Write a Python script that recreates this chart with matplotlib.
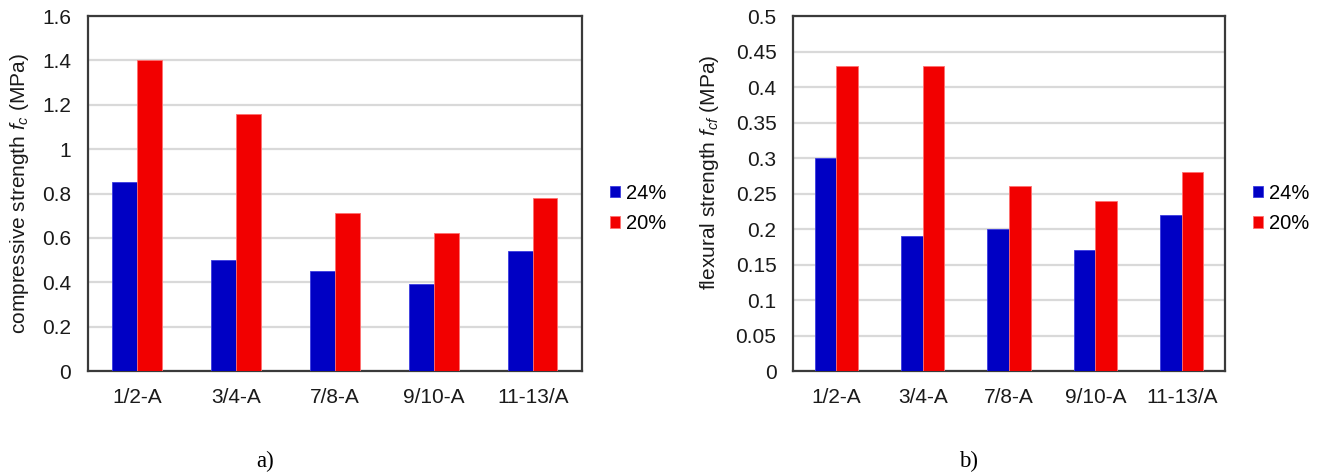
import matplotlib
matplotlib.use("Agg")
import matplotlib.pyplot as plt
import numpy as np

# Specimen groups and series
categories = ["1/2-A", "3/4-A", "7/8-A", "9/10-A", "11-13/A"]
series_labels = ["24%", "20%"]

# (a) compressive strength, MPa
compressive_24 = [0.85, 0.50, 0.45, 0.39, 0.54]
compressive_20 = [1.40, 1.16, 0.71, 0.62, 0.78]

# (b) flexural strength, MPa
flexural_24 = [0.30, 0.19, 0.20, 0.17, 0.22]
flexural_20 = [0.43, 0.43, 0.26, 0.24, 0.28]

compressive_ticks = [0, 0.2, 0.4, 0.6, 0.8, 1, 1.2, 1.4, 1.6]
flexural_ticks = [0, 0.05, 0.1, 0.15, 0.2, 0.25, 0.3, 0.35, 0.4, 0.45, 0.5]

BLUE = "#0000C4"
RED = "#F20000"
GRID = "#D9D9D9"
FRAME = "#3A3A3A"

plt.rcParams["font.family"] = ["Liberation Sans", "DejaVu Sans"]
plt.rcParams["mathtext.fontset"] = "custom"
plt.rcParams["mathtext.rm"] = "Liberation Sans"
plt.rcParams["mathtext.it"] = "Liberation Sans:italic"

fig = plt.figure(figsize=(13.2, 4.73), dpi=100)
ax_a = fig.add_axes([0.0664, 0.2156, 0.3746, 0.7505])
ax_b = fig.add_axes([0.6008, 0.2156, 0.3273, 0.7505])


def draw_panel(ax, s24, s20, ticks, ylabel, legend_x, label_xy):
    x = np.arange(len(categories))
    w = 0.25
    ax.bar(x - w / 2, s24, width=w, color=BLUE, edgecolor="#3C3CE0",
           linewidth=0.6, label=series_labels[0], zorder=3)
    ax.bar(x + w / 2, s20, width=w, color=RED, edgecolor="#FF7070",
           linewidth=0.6, label=series_labels[1], zorder=3)
    ax.set_xlim(-0.5, len(categories) - 0.5)
    ax.set_ylim(ticks[0], ticks[-1])
    ax.set_yticks(ticks)
    ax.set_yticklabels([f"{t:g}" for t in ticks])
    ax.set_xticks(x)
    ax.set_xticklabels(categories)
    ax.tick_params(axis="both", length=0, labelsize=15, colors="#1A1A1A",
                   pad=12)
    ax.yaxis.grid(True, color=GRID, linewidth=1.6, zorder=0)
    ax.set_axisbelow(True)
    for sp in ax.spines.values():
        sp.set_color(FRAME)
        sp.set_linewidth(1.6)
    ax.set_ylabel(ylabel, fontsize=15, color="#1A1A1A")
    ax.yaxis.set_label_coords(*label_xy)
    ax.legend(loc="center left", bbox_to_anchor=(legend_x, 0.458),
              frameon=False, fontsize=14.5, handlelength=0.5,
              handleheight=0.5, handletextpad=0.3, labelspacing=0.55,
              borderpad=0, borderaxespad=0)


draw_panel(ax_a, compressive_24, compressive_20, compressive_ticks,
           r"compressive strength $f_c$ (MPa)", 1.057, (-0.1145, 0.50))
draw_panel(ax_b, flexural_24, flexural_20, flexural_ticks,
           r"flexural strength $f_{cf}$ (MPa)", 1.065, (-0.167, 0.56))

fig.text(265 / 1320, 1 - 461 / 473, "a)", fontsize=16.5,
         family="Liberation Serif", ha="center", va="center")
fig.text(969 / 1320, 1 - 461 / 473, "b)", fontsize=16.5,
         family="Liberation Serif", ha="center", va="center")

fig.savefig("out.png", dpi=100)
